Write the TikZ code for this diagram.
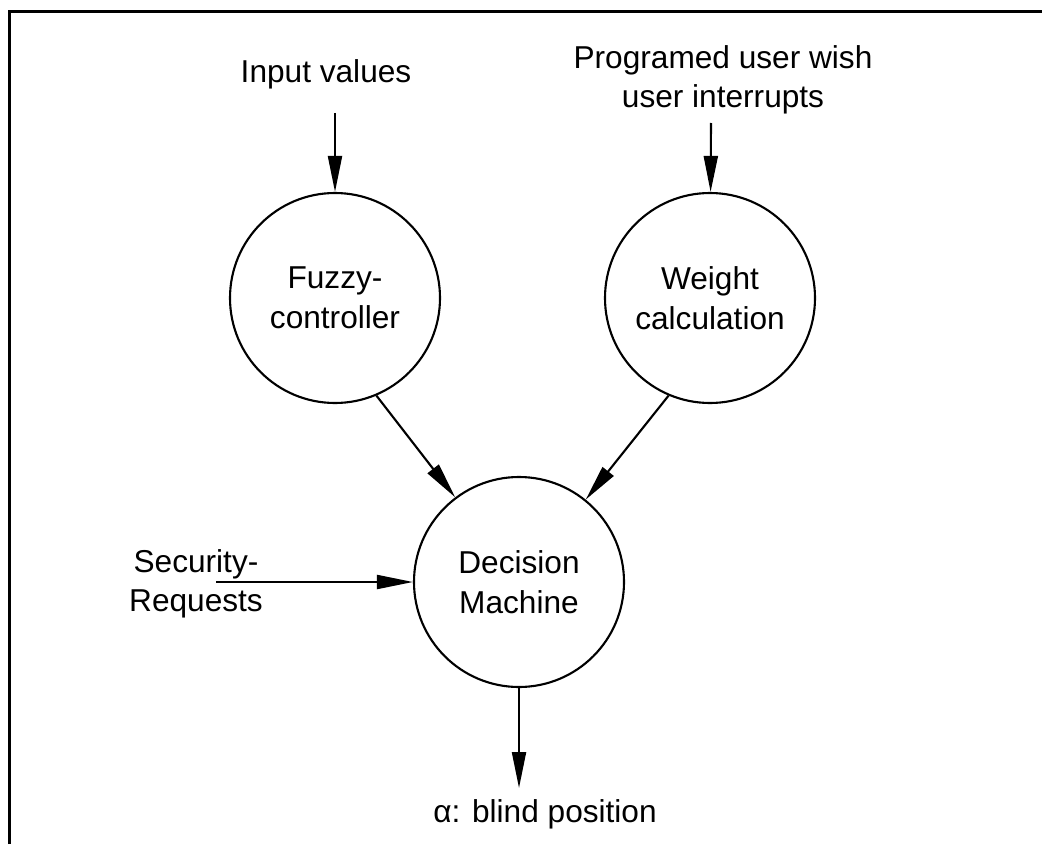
\documentclass[tikz,border=0pt]{standalone}
\usepackage{fontspec}
\setmainfont{Liberation Sans}
\usetikzlibrary{positioning,arrows.meta}
\tikzset{
  proc/.style  = {draw, circle, line width=1.2pt, minimum size=42mm,
                  inner sep=0pt, align=center},
  flow/.style  = {line width=1.2pt, -{Triangle[length=7.2mm,width=2.8mm]}},
  lbl/.style   = {align=center, inner sep=0pt},
  frame/.style = {line width=0.6mm},
}

\begin{document}
\begin{tikzpicture}[x=0.2mm,y=-0.2mm,font=\fontsize{18}{22.5}\selectfont]
  \useasboundingbox (0,0) rectangle (1042,844);
  \draw[frame] (9,844) -- (9,12) -- (1042,12);
  % processes
  \node[proc] (fuzzy) at (335,298) {Fuzzy-\\controller};
  \node[proc] (weight) at (710,298) {Weight\\calculation};
  \node[proc] (decision) at (519,582) {Decision\\Machine};
  % inputs and output
  \node[lbl, anchor=base] (input) at (326,83) {Input values};
  \node[lbl] (wish) at (723,80) {Programed user wish\\user interrupts};
  \node[lbl] (security) at (196,584) {Security-\\Requests};
  \node[lbl, anchor=base] (alpha) at (545,822) {α: blind position};
  \coordinate (in1) at (335,113);
  \coordinate (in2) at (711,123);
  \coordinate (sec) at (216,582);
  \coordinate (out) at (519,788);
  \draw[flow] (in1) -- (fuzzy);
  \draw[flow] (in2) -- (weight);
  \draw[flow] (fuzzy.-67) -- (decision.127);
  \draw[flow] (weight.-113) -- (decision.51);
  \draw[flow] (sec) -- (decision);
  \draw[flow] (decision) -- (out);
\end{tikzpicture}
\end{document}
